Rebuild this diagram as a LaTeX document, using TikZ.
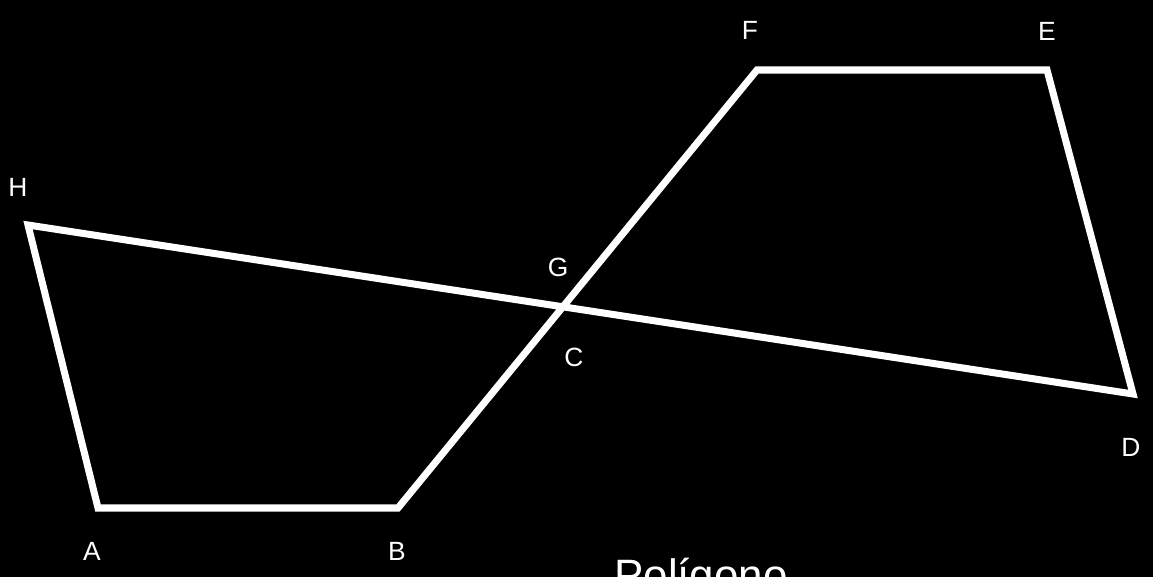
\documentclass[tikz,border=0pt]{standalone}
\usepackage{fontspec}
\setmainfont{Liberation Sans}

\begin{document}
\begin{tikzpicture}[x=0.02cm, y=-0.02cm]
                \tikzset{side/.style={draw=white, line width=4pt},
                         vlabel/.style={text=white, font=\fontsize{15}{18}\selectfont}}
                % Background:
                \fill[black] (0, 0) rectangle (1153, 577);
                \useasboundingbox (0, 0) rectangle (1153, 577);
                % Vertices:
                \coordinate (A) at (98, 508);
                \coordinate (B) at (398, 508);
                \coordinate (F) at (757, 70);
                \coordinate (E) at (1047, 70);
                \coordinate (D) at (1133, 394);
                \coordinate (H) at (28, 225);
                % Sides:
                \draw[side] (A) -- (B) -- (F) -- (E) -- (D) -- (H) -- cycle;
                % Labels:
                \node[vlabel] (labelA) at (92, 551) {A};
                \node[vlabel] (labelB) at (397, 551) {B};
                \node[vlabel] (labelC) at (574, 357) {C};
                \node[vlabel] (labelD) at (1131, 447) {D};
                \node[vlabel] (labelE) at (1047, 31) {E};
                \node[vlabel] (labelF) at (750, 30) {F};
                \node[vlabel] (labelG) at (558, 267) {G};
                \node[vlabel] (labelH) at (18, 187) {H};
                \begin{scope}
                \clip (0, 0) rectangle (1153, 577);
                \node[text=white, font=\fontsize{25}{30}\selectfont, anchor=base] (title) at (701, 590) {Polígono};
                \end{scope}
            \end{tikzpicture}
\end{document}
